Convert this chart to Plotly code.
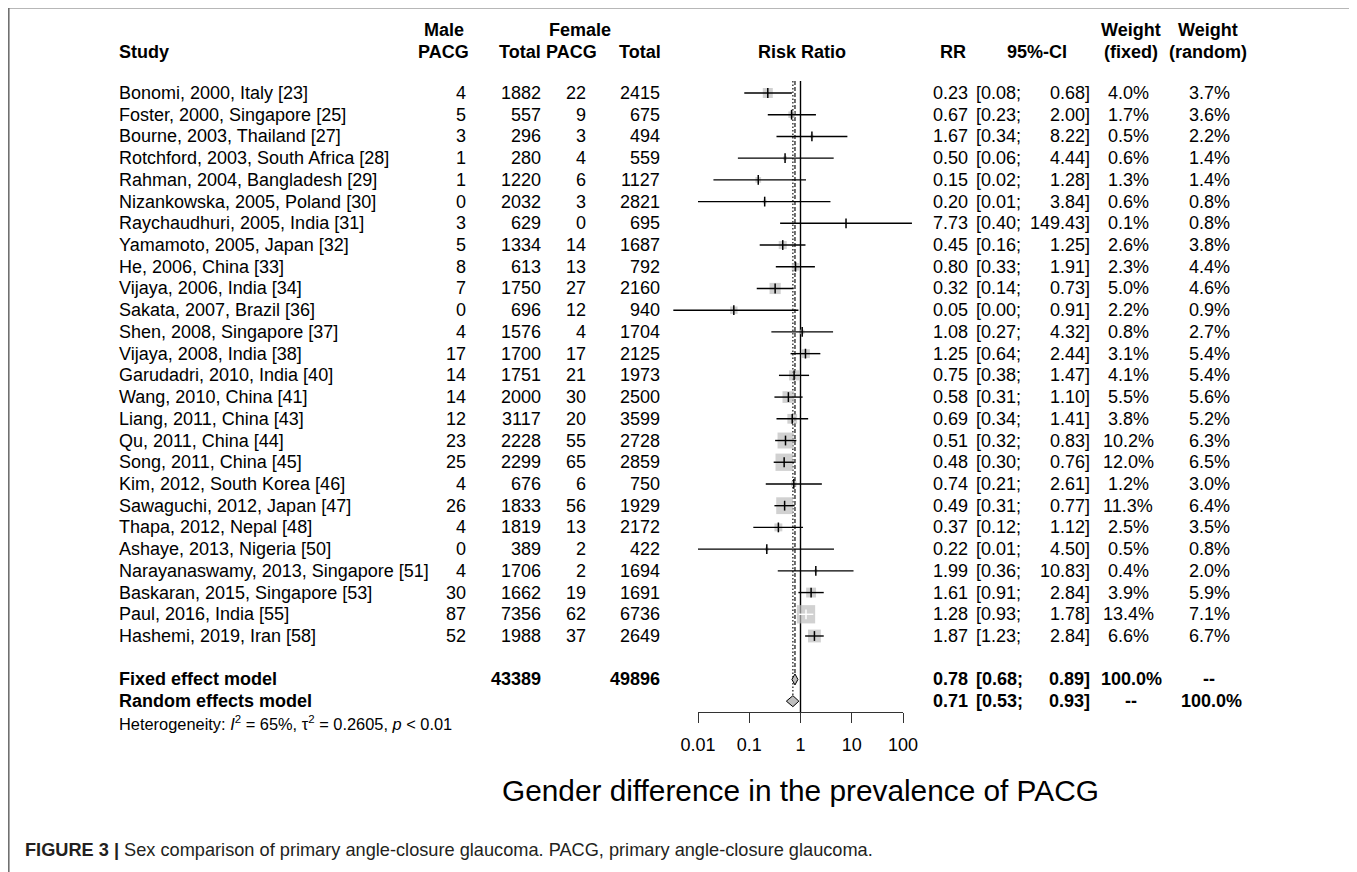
import math
import plotly.graph_objects as go

# ---------------- data ----------------
studies = [
    "Bonomi, 2000, Italy [23]", "Foster, 2000, Singapore [25]", "Bourne, 2003, Thailand [27]",
    "Rotchford, 2003, South Africa [28]", "Rahman, 2004, Bangladesh [29]", "Nizankowska, 2005, Poland [30]",
    "Raychaudhuri, 2005, India [31]", "Yamamoto, 2005, Japan [32]", "He, 2006, China [33]",
    "Vijaya, 2006, India [34]", "Sakata, 2007, Brazil [36]", "Shen, 2008, Singapore [37]",
    "Vijaya, 2008, India [38]", "Garudadri, 2010, India [40]", "Wang, 2010, China [41]",
    "Liang, 2011, China [43]", "Qu, 2011, China [44]", "Song, 2011, China [45]",
    "Kim, 2012, South Korea [46]", "Sawaguchi, 2012, Japan [47]", "Thapa, 2012, Nepal [48]",
    "Ashaye, 2013, Nigeria [50]", "Narayanaswamy, 2013, Singapore [51]", "Baskaran, 2015, Singapore [53]",
    "Paul, 2016, India [55]", "Hashemi, 2019, Iran [58]",
]
male_pacg = [4, 5, 3, 1, 1, 0, 3, 5, 8, 7, 0, 4, 17, 14, 14, 12, 23, 25, 4, 26, 4, 0, 4, 30, 87, 52]
male_total = [1882, 557, 296, 280, 1220, 2032, 629, 1334, 613, 1750, 696, 1576, 1700, 1751, 2000,
              3117, 2228, 2299, 676, 1833, 1819, 389, 1706, 1662, 7356, 1988]
female_pacg = [22, 9, 3, 4, 6, 3, 0, 14, 13, 27, 12, 4, 17, 21, 30, 20, 55, 65, 6, 56, 13, 2, 2, 19, 62, 37]
female_total = [2415, 675, 494, 559, 1127, 2821, 695, 1687, 792, 2160, 940, 1704, 2125, 1973, 2500,
                3599, 2728, 2859, 750, 1929, 2172, 422, 1694, 1691, 6736, 2649]
rr = [0.23, 0.67, 1.67, 0.50, 0.15, 0.20, 7.73, 0.45, 0.80, 0.32, 0.05, 1.08, 1.25, 0.75, 0.58,
      0.69, 0.51, 0.48, 0.74, 0.49, 0.37, 0.22, 1.99, 1.61, 1.28, 1.87]
ci_low = [0.08, 0.23, 0.34, 0.06, 0.02, 0.01, 0.40, 0.16, 0.33, 0.14, 0.0033, 0.27, 0.64, 0.38, 0.31,
          0.34, 0.32, 0.30, 0.21, 0.31, 0.12, 0.01, 0.36, 0.91, 0.93, 1.23]
ci_high = [0.68, 2.00, 8.22, 4.44, 1.28, 3.84, 149.43, 1.25, 1.91, 0.73, 0.91, 4.32, 2.44, 1.47, 1.10,
           1.41, 0.83, 0.76, 2.61, 0.77, 1.12, 4.50, 10.83, 2.84, 1.78, 2.84]
w_fixed = [4.0, 1.7, 0.5, 0.6, 1.3, 0.6, 0.1, 2.6, 2.3, 5.0, 2.2, 0.8, 3.1, 4.1, 5.5, 3.8, 10.2, 12.0,
           1.2, 11.3, 2.5, 0.5, 0.4, 3.9, 13.4, 6.6]
w_random = [3.7, 3.6, 2.2, 1.4, 1.4, 0.8, 0.8, 3.8, 4.4, 4.6, 0.9, 2.7, 5.4, 5.4, 5.6, 5.2, 6.3, 6.5,
            3.0, 6.4, 3.5, 0.8, 2.0, 5.9, 7.1, 6.7]
fixed_est, fixed_lo, fixed_hi = 0.78, 0.68, 0.89
random_est, random_lo, random_hi = 0.71, 0.53, 0.93
tick_vals = [0.01, 0.1, 1, 10, 100]
tick_text = ["0.01", "0.1", "1", "10", "100"]
hetero_text = "Heterogeneity: <i>I</i><sup>2</sup> = 65%, τ<sup>2</sup> = 0.2605, <i>p</i> < 0.01"
title_text = "Gender difference in the prevalence of PACG"
caption_bold = "FIGURE 3 |"
caption_text = " Sex comparison of primary angle-closure glaucoma. PACG, primary angle-closure glaucoma."

# ---------------- layout constants (screen pixel coordinates) ----------------
W, H = 1357, 872
OFF = 8            # page body margin: pixel axes are set up so data coords = screen coords
FONT = "Liberation Sans, Arial, sans-serif"
FS = 18
ROW0, DY = 93, 21.72
X001, X100 = 698, 903
DEC = (X100 - X001) / 4.0
AXIS_Y = 712
TOP_Y = 81
GRAY = "#bebebe"
LW = 1.4


def ry(i):
    return ROW0 + DY * i


ann = []


def T(x, y, s, anchor="left", size=FS, bold=False, color="black"):
    if bold:
        s = "<b>" + s + "</b>"
    ann.append(dict(x=x, y=y, xref="x", yref="y", text=s, showarrow=False,
                    xanchor=anchor, yanchor="middle", borderpad=0,
                    font=dict(family=FONT, size=size, color=color)))


fig = go.Figure()

# ---------------- headers ----------------
hy1, hy2 = 30, 52
T(444, hy1, "Male", "center", bold=True)
T(580, hy1, "Female", "center", bold=True)
T(1131, hy1, "Weight", "center", bold=True)
T(1208, hy1, "Weight", "center", bold=True)
T(118, hy2, "Study", "left", bold=True)
T(470, hy2, "PACG", "right", bold=True)
T(542, hy2, "Total", "right", bold=True)
T(598, hy2, "PACG", "right", bold=True)
T(662, hy2, "Total", "right", bold=True)
T(802, hy2, "Risk Ratio", "center", bold=True)
T(953, hy2, "RR", "center", bold=True)
T(1037, hy2, "95%-CI", "center", bold=True)
T(1131, hy2, "(fixed)", "center", bold=True)
T(1208, hy2, "(random)", "center", bold=True)

# ---------------- study rows text ----------------
for i, s in enumerate(studies):
    y = ry(i)
    T(118, y, s, "left")
    T(467, y, str(male_pacg[i]), "right")
    T(542, y, str(male_total[i]), "right")
    T(587, y, str(female_pacg[i]), "right")
    T(661, y, str(female_total[i]), "right")
    T(969, y, f"{rr[i]:.2f}", "right")
    T(975, y, f"[{ci_low[i]:.2f};", "left")
    T(1091, y, f"{ci_high[i]:.2f}]", "right")
    T(1128, y, f"{w_fixed[i]:.1f}%", "center")
    T(1209, y, f"{w_random[i]:.1f}%", "center")

# ---------------- summary rows ----------------
yf, yr_ = ry(27), ry(28)
T(118, yf, "Fixed effect model", "left", bold=True)
T(542, yf, str(sum(male_total)), "right", bold=True)
T(661, yf, str(sum(female_total)), "right", bold=True)
T(969, yf, f"{fixed_est:.2f}", "right", bold=True)
T(975, yf, f"[{fixed_lo:.2f};", "left", bold=True)
T(1091, yf, f"{fixed_hi:.2f}]", "right", bold=True)
T(1131, yf, "100.0%", "center", bold=True)
T(1209, yf, "--", "center", bold=True)

T(118, yr_, "Random effects model", "left", bold=True)
T(969, yr_, f"{random_est:.2f}", "right", bold=True)
T(975, yr_, f"[{random_lo:.2f};", "left", bold=True)
T(1091, yr_, f"{random_hi:.2f}]", "right", bold=True)
T(1131, yr_, "--", "center", bold=True)
T(1211, yr_, "100.0%", "center", bold=True)

T(118, ry(29), hetero_text, "left", size=16.4)

T(800, 790, title_text, "center", size=29.8)
T(24, 850, "<b>" + caption_bold + "</b>" + caption_text, "left", size=18.2, color="#231f20")

# ---------------- forest marks (log axis x2) ----------------
fig.add_trace(go.Scatter(x=[1, 1], y=[TOP_Y, AXIS_Y], xaxis="x2", yaxis="y", mode="lines",
                         line=dict(color="black", width=LW), hoverinfo="skip", showlegend=False))
fig.add_trace(go.Scatter(x=[fixed_est, fixed_est], y=[TOP_Y, yf - 5.5], xaxis="x2", yaxis="y", mode="lines",
                         line=dict(color="#222", width=1.3, dash="4px,2px"), hoverinfo="skip", showlegend=False))
fig.add_trace(go.Scatter(x=[random_est, random_est], y=[TOP_Y, yr_ - 5.5], xaxis="x2", yaxis="y", mode="lines",
                         line=dict(color="#222", width=1.3, dash="1.5px,2px"), hoverinfo="skip", showlegend=False))

sizes = [max(5.0 * math.sqrt(w), 1.0) for w in w_fixed]
fig.add_trace(go.Scatter(x=rr, y=[ry(i) for i in range(len(rr))], xaxis="x2", yaxis="y", mode="markers",
                         marker=dict(symbol="square", size=sizes, color=GRAY, line=dict(width=0)),
                         hoverinfo="skip", showlegend=False))

bx, by, wx, wy = [], [], [], []
tbx, tby, twx, twy = [], [], [], []
for i in range(len(rr)):
    y = ry(i)
    inside = (math.log10(ci_high[i]) - math.log10(ci_low[i])) * DEC < sizes[i]
    if inside:
        wx += [ci_low[i], ci_high[i], None]; wy += [y, y, None]
        twx.append(rr[i]); twy.append(y)
    else:
        bx += [ci_low[i], ci_high[i], None]; by += [y, y, None]
        tbx.append(rr[i]); tby.append(y)
fig.add_trace(go.Scatter(x=bx, y=by, xaxis="x2", yaxis="y", mode="lines",
                         line=dict(color="black", width=LW), hoverinfo="skip", showlegend=False))
fig.add_trace(go.Scatter(x=wx, y=wy, xaxis="x2", yaxis="y", mode="lines",
                         line=dict(color="white", width=LW), hoverinfo="skip", showlegend=False))
fig.add_trace(go.Scatter(x=tbx, y=tby, xaxis="x2", yaxis="y", mode="markers",
                         marker=dict(symbol="line-ns", size=7, line=dict(color="black", width=1.5)),
                         hoverinfo="skip", showlegend=False))
fig.add_trace(go.Scatter(x=twx, y=twy, xaxis="x2", yaxis="y", mode="markers",
                         marker=dict(symbol="line-ns", size=7, line=dict(color="white", width=1.5)),
                         hoverinfo="skip", showlegend=False))

for est, lo, hi, yc in [(fixed_est, fixed_lo, fixed_hi, yf), (random_est, random_lo, random_hi, yr_)]:
    h = 5.5
    fig.add_trace(go.Scatter(x=[lo, est, hi, est, lo], y=[yc, yc - h, yc, yc + h, yc], xaxis="x2", yaxis="y",
                             mode="lines", fill="toself", fillcolor=GRAY,
                             line=dict(color="black", width=1), hoverinfo="skip", showlegend=False))

# invisible trace to activate the visible log axis x3
fig.add_trace(go.Scatter(x=[1], y=[AXIS_Y], xaxis="x3", yaxis="y", mode="markers",
                         marker=dict(opacity=0), hoverinfo="skip", showlegend=False))

shapes = [dict(type="rect", xref="x", yref="y", x0=8.8, x1=1355, y0=7.6, y1=H + 40,
               line=dict(color="#707070", width=1.6), fillcolor="rgba(0,0,0,0)")]

fig.update_layout(
    width=W, height=H, margin=dict(l=0, r=0, t=0, b=0, pad=0, autoexpand=False),
    paper_bgcolor="white", plot_bgcolor="rgba(0,0,0,0)",
    showlegend=False,
    xaxis=dict(range=[OFF, OFF + W], visible=False, domain=[0, 1], fixedrange=True),
    yaxis=dict(range=[OFF + H, OFF], visible=False, domain=[0, 1], fixedrange=True),
    xaxis2=dict(type="log", range=[-2 - (X001 - OFF) / DEC, 2 + (OFF + W - X100) / DEC], domain=[0, 1],
                overlaying="x", visible=False, fixedrange=True),
    xaxis3=dict(type="log", range=[-2, 2], domain=[(X001 - OFF) / W, (X100 - OFF) / W], anchor="free",
                position=1 - (AXIS_Y - OFF) / H, showline=True, linecolor="#333", linewidth=1.2,
                ticks="outside", ticklen=10, tickwidth=1.2, tickcolor="#333",
                tickvals=tick_vals, ticktext=tick_text, showgrid=False, zeroline=False,
                tickfont=dict(family=FONT, size=FS, color="black"), ticklabelstandoff=6,
                automargin=False, fixedrange=True),
    annotations=ann,
    shapes=shapes,
)

fig.write_html("out.html")
